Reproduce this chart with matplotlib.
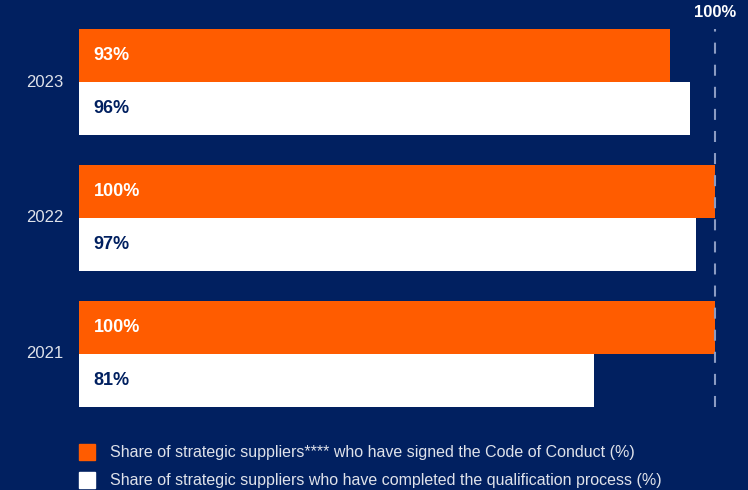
import matplotlib.pyplot as plt
import numpy as np

# Data
years = ['2021', '2022', '2023']
code_of_conduct = [100, 100, 93]
qualification = [81, 97, 96]
legend_labels = [
    'Share of strategic suppliers**** who have signed the Code of Conduct (%)',
    'Share of strategic suppliers who have completed the qualification process (%)',
]

BG = '#012060'
ORANGE = '#FF5C00'
WHITE = '#FFFFFF'
TEXT_GREY = '#DFE2EA'
DASH = '#8B9BC2'

plt.rcParams['font.family'] = ['Liberation Sans', 'DejaVu Sans']

W, H = 748, 490
fig = plt.figure(figsize=(W / 100, H / 100), dpi=100, facecolor=BG)

# axes spans bars area: x 79..715 px, y 29..407 px
ax = fig.add_axes([79 / W, 1 - 407 / H, (715 - 79) / W, (407 - 29) / H])
ax.set_facecolor(BG)
ax.set_xlim(0, 100)

bar_h = 0.39
y = np.arange(len(years))
ax.set_ylim(-bar_h, len(years) - 1 + bar_h)

ax.barh(y + bar_h / 2, code_of_conduct, height=bar_h, color=ORANGE, left=0, zorder=2)
ax.barh(y - bar_h / 2, qualification, height=bar_h, color=WHITE, left=0, zorder=2)

for yi, v in zip(y, code_of_conduct):
    ax.text(2.3, yi + bar_h / 2, f'{v}%', color=WHITE, fontsize=13,
            fontweight='bold', va='center', ha='left', zorder=4)
for yi, v in zip(y, qualification):
    ax.text(2.3, yi - bar_h / 2, f'{v}%', color=BG, fontsize=13,
            fontweight='bold', va='center', ha='left', zorder=4)

# year labels
for yi, yr in zip(y, years):
    ax.text(-2.5, yi, yr, color=TEXT_GREY, fontsize=12, va='center', ha='right',
            clip_on=False)

# 100% reference line
ax.axvline(100, color=DASH, lw=1.5, linestyle=(0, (5.3, 5.3)), zorder=3, clip_on=False)
ax.text(100, 1.025, '100%', transform=ax.get_xaxis_transform(), color=WHITE,
        fontsize=12, fontweight='bold', ha='center', va='bottom', clip_on=False)

for s in ax.spines.values():
    s.set_visible(False)
ax.set_xticks([])
ax.set_yticks([])

# legend
for i, (lab, col) in enumerate(zip(legend_labels, [ORANGE, WHITE])):
    yc = 1 - (452 + i * 28) / H
    fig.patches.append(plt.Rectangle((79 / W, yc - 8 / H), 16 / W, 16 / H,
                                     transform=fig.transFigure, color=col))
    fig.text(110 / W, yc, lab, color=TEXT_GREY, fontsize=11.5, va='center', ha='left')

plt.savefig('out.png', dpi=100, facecolor=BG)
